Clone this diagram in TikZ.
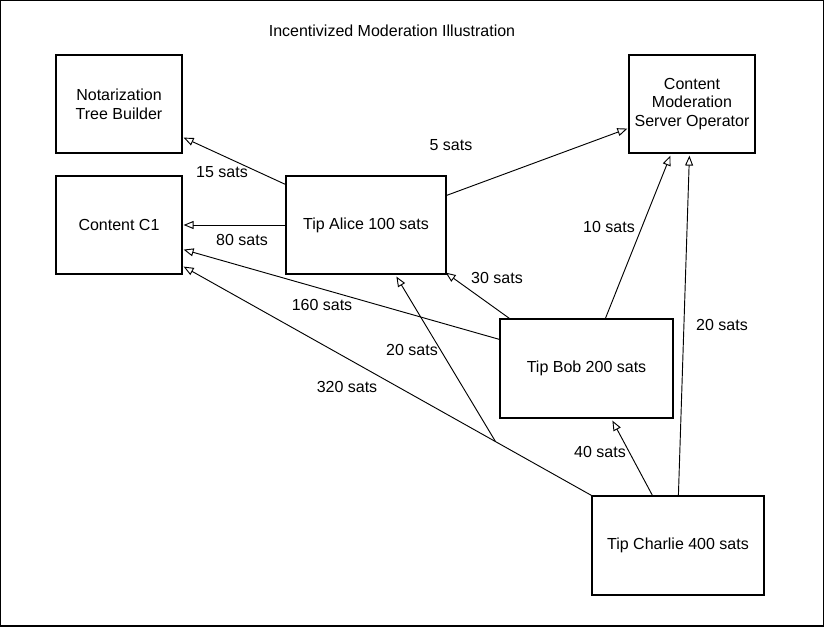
\documentclass[tikz,border=0pt]{standalone}
\usepackage{fontspec}
\setmainfont{Liberation Sans}
\usetikzlibrary{arrows.meta,calc}
\begin{document}
\begin{tikzpicture}[x=0.75pt,y=-0.75pt,
  every node/.style={font=\fontsize{12}{14}\selectfont},
  box/.style={draw,line width=0.9pt,rectangle,align=center,inner sep=0pt},
  flow/.style={draw,line width=0.7pt,-{Triangle[open,length=7.5pt,width=6pt]}},
  lbl/.style={inner sep=1pt}]
\useasboundingbox (0,0) rectangle (827,627);
\draw[line width=0.9pt] (0.5,0.5) rectangle (823.5,626);
\node[lbl] (title) at (392,31) {Incentivized Moderation Illustration};
\node[box,minimum width=126*0.75pt,minimum height=98*0.75pt] (notar) at (119,104) {Notarization\\Tree Builder};
\node[box,minimum width=126*0.75pt,minimum height=98*0.75pt] (c1) at (119,225) {Content C1};
\node[box,minimum width=160*0.75pt,minimum height=98*0.75pt] (alice) at (366,225) {Tip Alice 100 sats};
\node[box,minimum width=126*0.75pt,minimum height=98*0.75pt] (mod) at (692,104) {Content\\Moderation\\Server Operator};
\node[box,minimum width=173*0.75pt,minimum height=99*0.75pt] (bob) at (586.5,368.5) {Tip Bob 200 sats};
\node[box,minimum width=172*0.75pt,minimum height=99*0.75pt] (charlie) at (678,545.5) {Tip Charlie 400 sats};
% connectors
\draw[flow] ($(alice.north west)+(0,9)$) -- ($(notar.south east)+(1,-16)$);
\draw[flow] (alice.west) -- ($(c1.east)+(1,0)$);
\draw[flow] ($(alice.north east)+(0,20)$) -- ($(mod.south west)+(-1,-25)$);
\draw[flow] ($(bob.north west)+(10,0)$) -- ($(alice.south east)+(-1,-2)$);
\draw[flow] ($(bob.north west)+(0,21)$) -- ($(c1.south east)+(1,-25)$);
\draw[flow] ($(bob.north west)+(106,0)$) -- ($(mod.south west)+(42,2)$);
\draw[flow] ($(charlie.north west)+(61,0)$) -- ($(bob.south west)+(113,2)$);
\draw[flow] ($(charlie.north west)+(87,0)$) -- ($(mod.south west)+(61,2)$);
\draw[flow] (charlie.north west) -- coordinate[pos=0.235] (br) ($(c1.south east)+(1,-8)$);
\draw[flow] (br) -- ($(alice.south west)+(111,2)$);
% labels
\node[lbl] (l15) at (222,172) {15 sats};
\node[lbl] (l80) at (242,240) {80 sats};
\node[lbl] (l5) at (451,145) {5 sats};
\node[lbl] (l30) at (497,278) {30 sats};
\node[lbl] (l10) at (609,227) {10 sats};
\node[lbl] (l160) at (322,305) {160 sats};
\node[lbl] (l20a) at (412,350) {20 sats};
\node[lbl] (l320) at (347,387) {320 sats};
\node[lbl] (l20b) at (722,325) {20 sats};
\node[lbl] (l40) at (600,452) {40 sats};
\end{tikzpicture}
\end{document}
